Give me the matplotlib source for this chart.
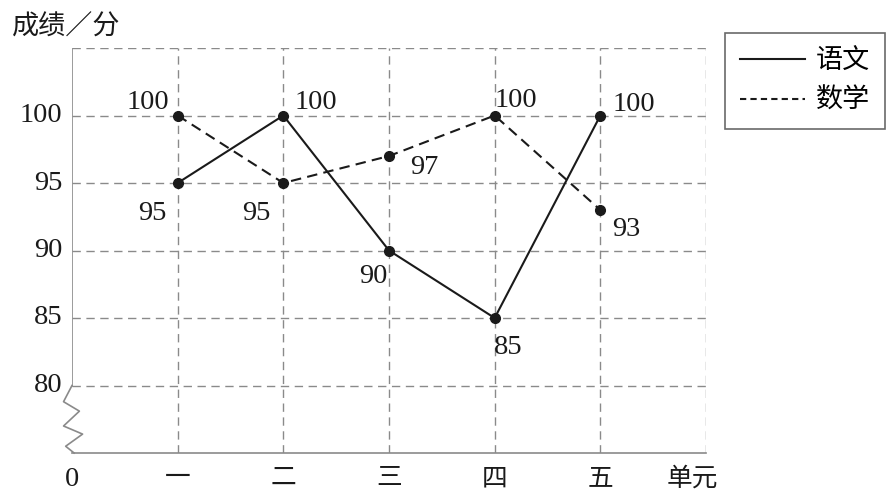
import matplotlib
matplotlib.use('Agg')
import matplotlib.pyplot as plt
from matplotlib.lines import Line2D

units   = ['一', '二', '三', '四', '五']
yuwen   = [95, 100, 90, 85, 100]
shuxue  = [100, 95, 97, 100, 93]
y_ticks = [80, 85, 90, 95, 100]

# label offsets in pixels (dx, dy) for each point
yuwen_off  = [(-25, -30), (33, 13), (-16, -26), (14, -30), (34, 11)]
shuxue_off = [(-30, 13), (-27, -30), (35, -12), (21, 15), (26, -20)]

CJK = ['Noto Sans CJK SC', 'DejaVu Sans']
NUM = 'Liberation Serif'
GRID = '#8a8a8a'
INK = '#1a1a1a'

fig = plt.figure(figsize=(8.96, 5), dpi=100)
ax = fig.add_axes([72/896, 1-453/500, (706-72)/896, (453-48)/500])

xs = list(range(1, len(units) + 1))
ax.set_xlim(0, 6)
ax.set_ylim(75, 105)

# grid
for x in xs + [6]:
    ax.plot([x, x], [75, 105], color=GRID, lw=1, ls=(0, (6, 4)), zorder=1)
for y in y_ticks + [105]:
    ax.plot([0, 6], [y, y], color=GRID, lw=1, ls=(0, (6, 4)), zorder=1)

for s in ax.spines.values():
    s.set_visible(False)
ax.plot([0, 0], [80, 105], color=GRID, lw=1.2, zorder=2)
ax.plot([0, 6], [75, 75], color=GRID, lw=1.2, zorder=2, clip_on=False)

# axis break zigzag
zx = [0, -0.08, 0.07, -0.08, 0.1, -0.06, 0.02]
zy = [80, 78.8, 78.1, 77.0, 76.4, 75.5, 75]
ax.plot(zx, zy, color=GRID, lw=1.2, clip_on=False, zorder=2)

ax.plot(xs, yuwen, color=INK, lw=1.5, marker='o', ms=7, zorder=4)
ax.plot(xs, shuxue, color=INK, lw=1.5, ls=(0, (5, 3)), marker='o', ms=7, zorder=4)

for x, v, (dx, dy) in zip(xs, yuwen, yuwen_off):
    ax.annotate(str(v), (x, v), xytext=(dx, dy), textcoords='offset pixels',
                ha='center', va='center', fontsize=20.5, family=NUM, color=INK)
for x, v, (dx, dy) in zip(xs, shuxue, shuxue_off):
    ax.annotate(str(v), (x, v), xytext=(dx, dy), textcoords='offset pixels',
                ha='center', va='center', fontsize=20.5, family=NUM, color=INK)

ax.set_xticks([])
ax.set_yticks([])
for y in y_ticks:
    ax.text(-0.09, y, str(y), ha='right', va='center', fontsize=20.5, family=NUM, color=INK)
ax.text(0, 74.0, '0', ha='center', va='top', fontsize=20.5, family=NUM, color=INK)
for x, u in zip(xs, units):
    ax.text(x, 74.1, u, ha='center', va='top', fontsize=18.5, family=CJK, color=INK)
ax.text(5.87, 74.1, '单元', ha='center', va='top', fontsize=18.5, family=CJK, color=INK)

fig.text(12/896, 1-27/500, '成绩／分', ha='left', va='center', fontsize=19.5,
         family=CJK, color=INK)

handles = [Line2D([], [], color=INK, lw=1.5),
           Line2D([], [], color=INK, lw=1.5, ls=(0, (3, 2)))]
leg = fig.legend(handles, ['语文', '数学'], loc='upper left',
                 bbox_to_anchor=(725/896, 1-33/500), borderaxespad=0,
                 frameon=True, fancybox=False,
                 edgecolor='#444444', handlelength=2.4, handletextpad=0.4,
                 borderpad=0.55, labelspacing=0.45, prop={'family': CJK, 'size': 19.5})
leg.get_frame().set_linewidth(1.2)

fig.savefig('out.png', dpi=100)
